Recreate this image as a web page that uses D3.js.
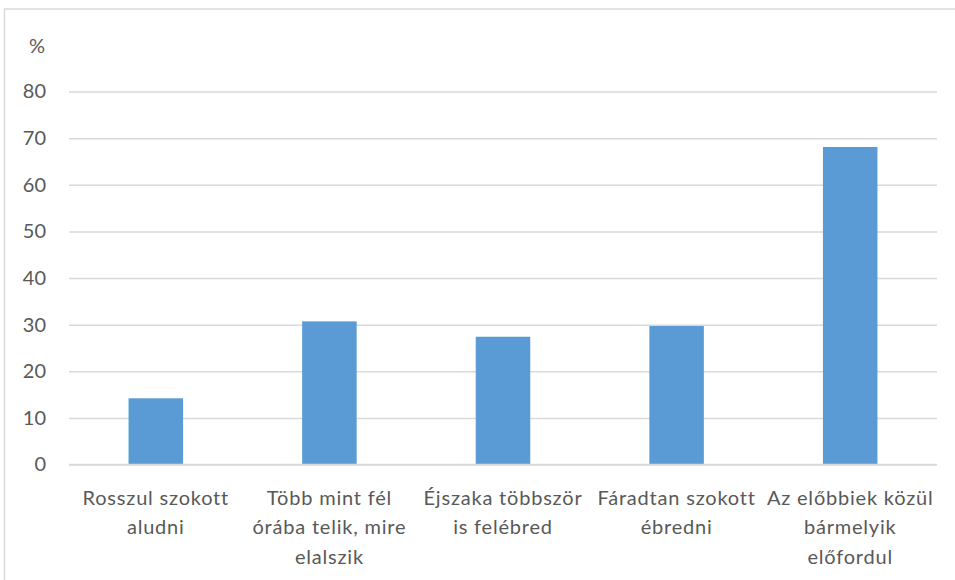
<!DOCTYPE html>
<html><head><meta charset="utf-8">
<script src="https://cdn.jsdelivr.net/npm/d3@7"></script>
<style>body{margin:0;background:#fff;} svg{display:block;font-family:Lato,"Open Sans",sans-serif;}</style>
</head><body>
<script>
const categories = ["Rosszul szokott\naludni", "Több mint fél\nórába telik, mire\nelalszik", "Éjszaka többször\nis felébred", "Fáradtan szokott\nébredni", "Az előbbiek közül\nbármelyik\nelőfordul"];
const values = [14.2, 30.7, 27.4, 29.7, 68.1];
const yTicks = [0, 10, 20, 30, 40, 50, 60, 70, 80];
const unitLabel = "%";

const W = 955, H = 580;
const svg = d3.select("body").append("svg").attr("width", W).attr("height", H);
svg.append("rect").attr("x", 4.5).attr("y", 9).attr("width", 1000).attr("height", 600)
  .attr("fill", "#fff").attr("stroke", "#d9d9d9").attr("stroke-width", 1.5);

const m = {left: 69, right: 937, top: 91.5, bottom: 464.5};
const x = d3.scaleBand().domain(categories).range([m.left, m.right]).paddingInner(0.686).paddingOuter(0.343);
const y = d3.scaleLinear().domain([0, 80]).range([m.bottom, m.top]);

const yAxis = d3.axisLeft(y).tickValues(yTicks).tickSize(-(m.right - m.left)).tickPadding(23);
const gy = svg.append("g").attr("transform", `translate(${m.left},0)`).call(yAxis);
gy.select(".domain").remove();
gy.selectAll(".tick line").attr("stroke", "#d9d9d9").attr("stroke-width", 1.5);
gy.selectAll(".tick text").attr("fill", "#595959").style("font-size", "20px").style("font-family", "Lato,sans-serif");

svg.append("text").attr("x", 45).attr("y", 45).attr("text-anchor", "end").attr("dominant-baseline", "central")
  .attr("fill", "#595959").style("font-size", "20px").text(unitLabel);

svg.append("g").selectAll("rect").data(categories).join("rect")
  .attr("x", d => x(d)).attr("width", x.bandwidth())
  .attr("y", (d, i) => y(values[i])).attr("height", (d, i) => y(0) - y(values[i]))
  .attr("fill", "#5b9bd5");

svg.append("line").attr("x1", m.left).attr("x2", m.right).attr("y1", y(0)).attr("y2", y(0))
  .attr("stroke", "#d9d9d9").attr("stroke-width", 1.5);

const xAxis = d3.axisBottom(x).tickSize(0).tickFormat("");
const gx = svg.append("g").attr("transform", `translate(0,${m.bottom})`).call(xAxis);
gx.select(".domain").remove();
gx.selectAll(".tick").each(function(d) {
  const t = d3.select(this).append("text").attr("fill", "#595959").attr("text-anchor", "middle")
    .style("font-size", "20px").style("letter-spacing", "0.8px").style("font-family", "Lato,sans-serif");
  d.split("\n").forEach((line, i) => {
    t.append("tspan").attr("x", 0).attr("y", 32 + i * 29.5).attr("dominant-baseline", "central").text(line);
  });
});
</script>
</body></html>
